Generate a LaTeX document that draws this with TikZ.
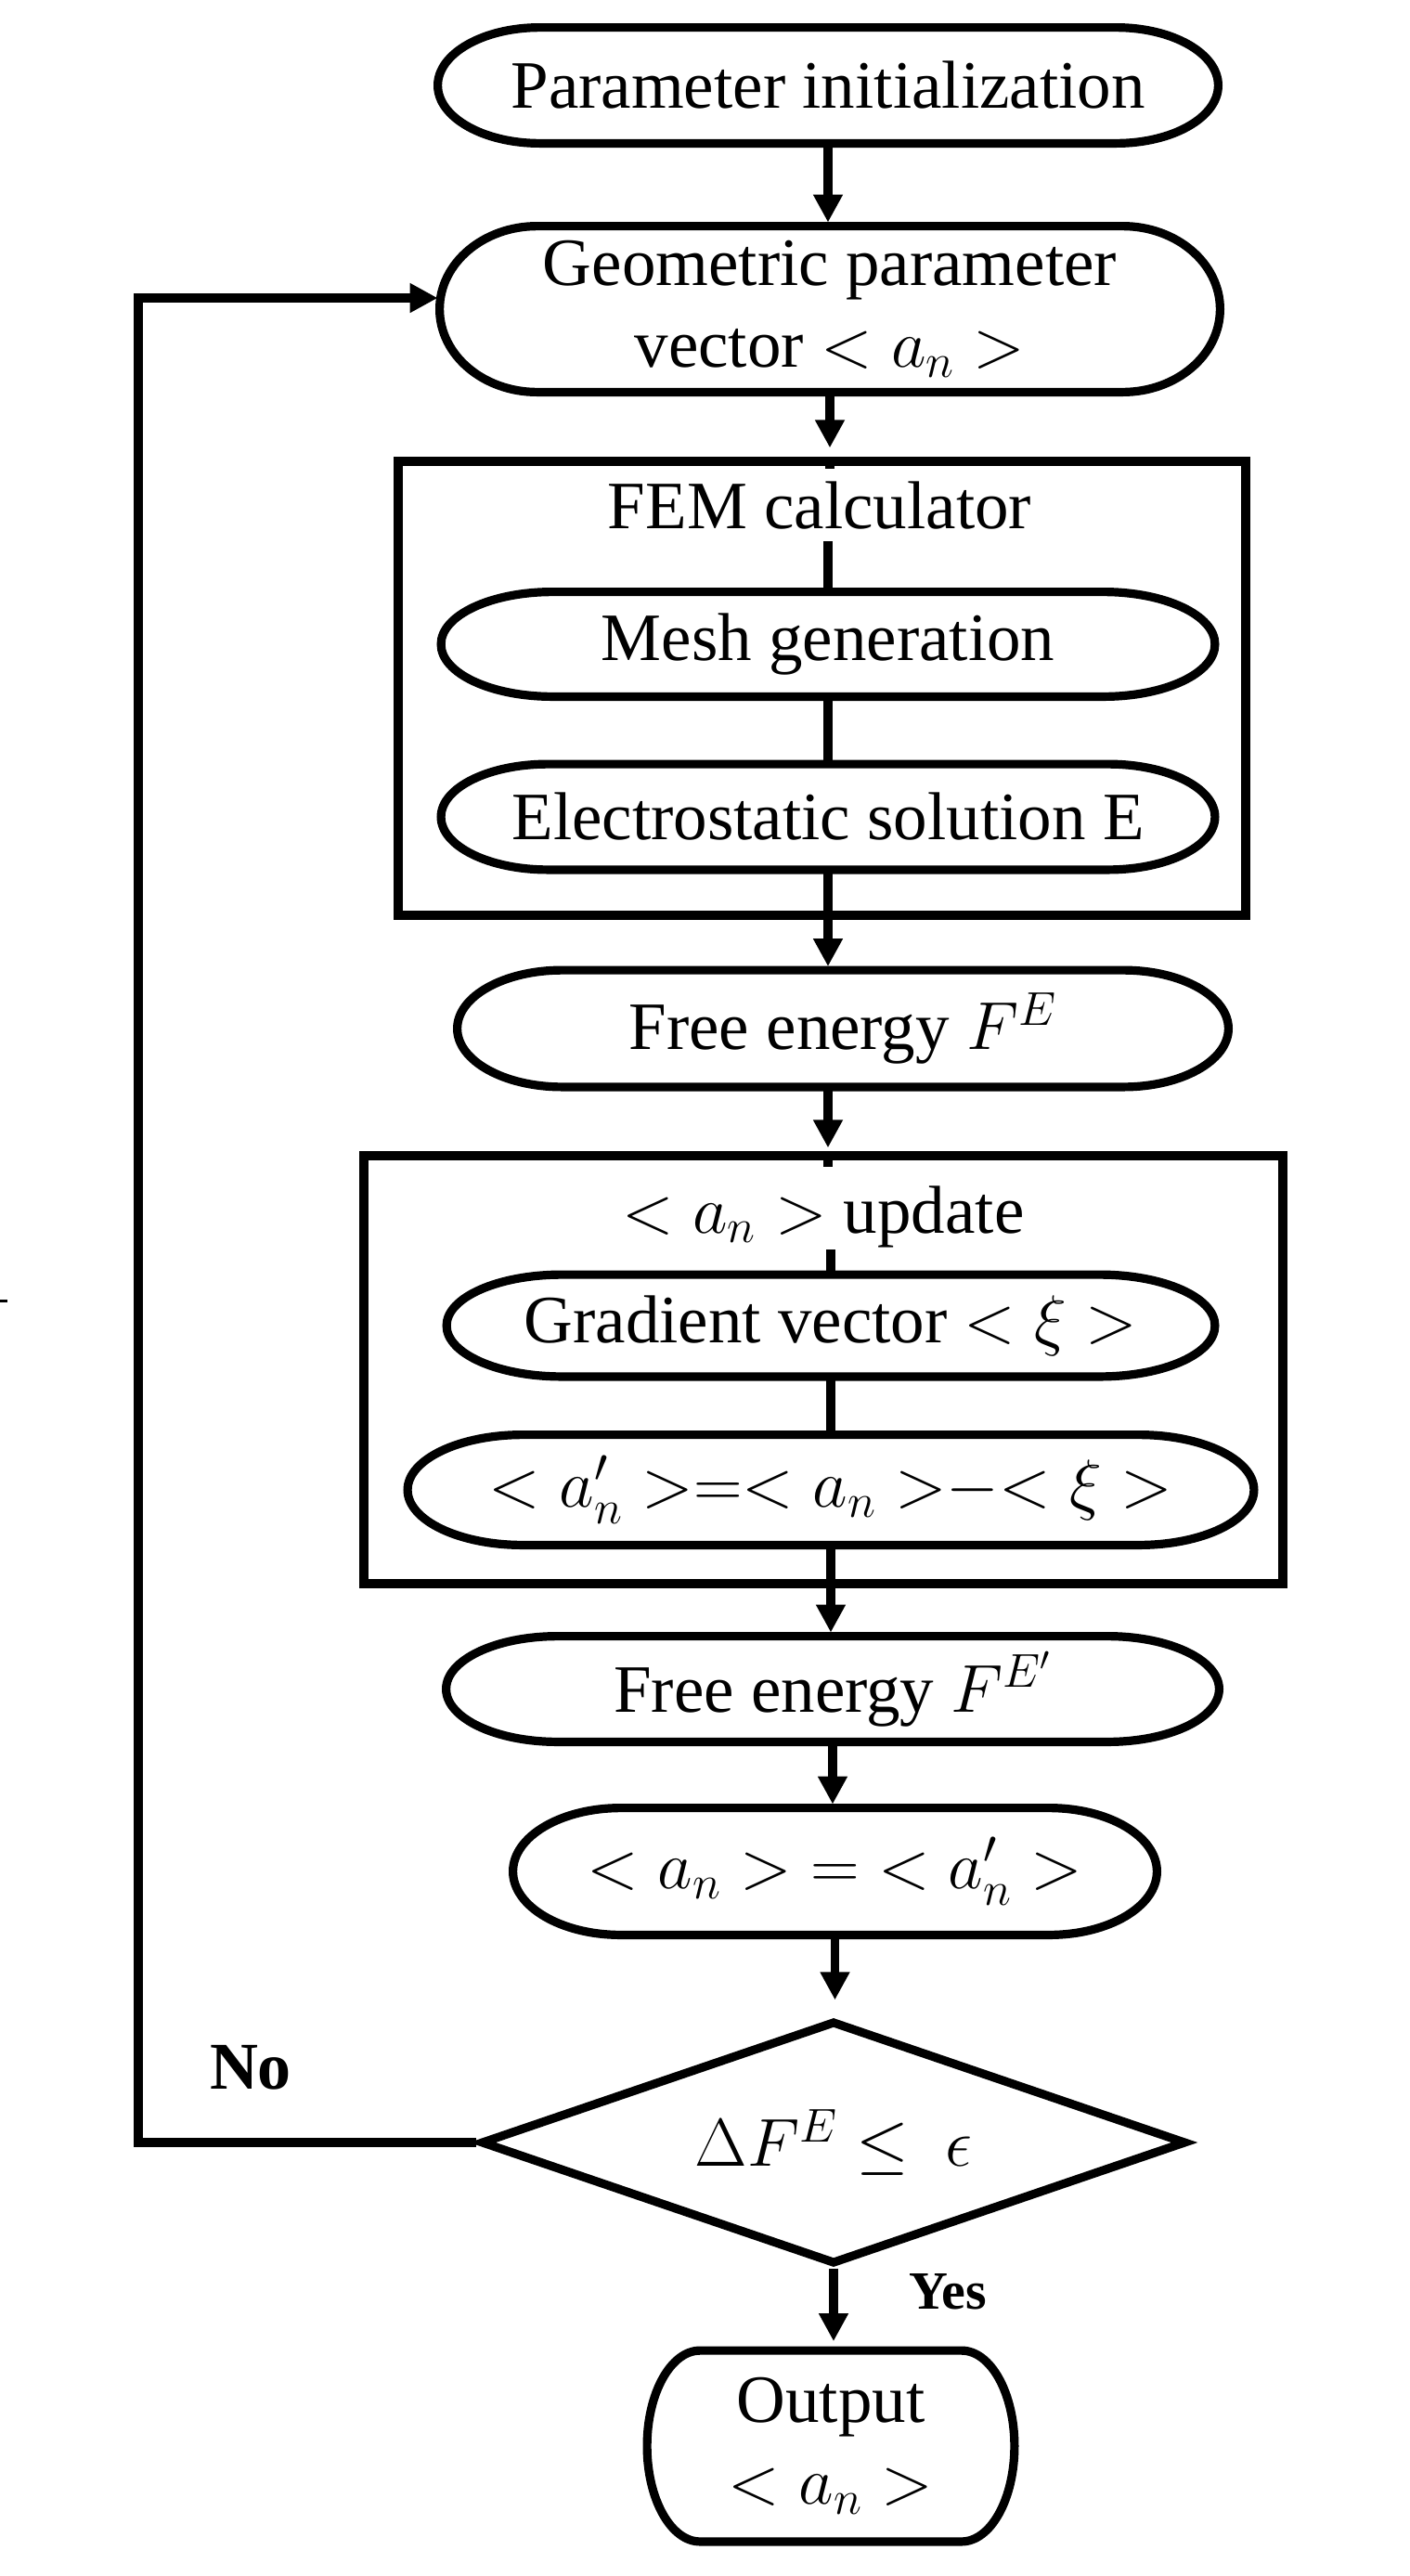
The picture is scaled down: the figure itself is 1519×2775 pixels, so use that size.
\RequirePackage{fix-cm}
\documentclass[tikz,border=0pt]{standalone}
\usepackage{fontspec}
\setmainfont{Liberation Serif}
\usetikzlibrary{arrows.meta,calc,shapes.geometric}
\tikzset{
  outl/.style={line width=4.6pt},
  txt/.style={font=\fontsize{36.5pt}{44pt}\selectfont, align=center},
  stad/.style={txt, draw=none, inner sep=0pt},
  boxr/.style={rectangle, draw, outl, inner sep=0pt},
  lbl/.style={txt, inner sep=0pt},
  arr/.style={line width=4.6pt, -{Triangle[length=15pt,width=15pt]}},
  conn/.style={line width=4.6pt},
  yesno/.style={font=\bfseries\fontsize{#1}{#1}\selectfont}
}
\newcommand\stadium[2]{%
  \draw[outl] let \p1=(#1.north west), \p2=(#1.south east), \n1={0.5*(\y1-\y2)} in
   (\x1+#2pt,\y1) -- (\x2-#2pt,\y1)
   arc[start angle=90,end angle=-90,x radius=#2pt,y radius=\n1]
   -- (\x1+#2pt,\y2)
   arc[start angle=270,end angle=90,x radius=#2pt,y radius=\n1] -- cycle;}
\begin{document}
\begin{tikzpicture}[x=0.5pt,y=-0.5pt]
\useasboundingbox (0,0) rectangle (1519,2775);
% nodes
\node[stad, minimum width=420pt, minimum height=62pt] (init) at (892,92) {Parameter initialization};
\node[stad, minimum width=420pt, minimum height=89pt] (geom) at (894,333) {Geometric parameter\\vector $<a_n>$};
\node[boxr, minimum width=456.5pt, minimum height=244.5pt] (fem) at (885.5,741.5) {};
\node[lbl, text height=32pt, text depth=7pt, anchor=base] (femlbl) at (883,569) {FEM calculator};
\node[stad, minimum width=416.5pt, minimum height=56pt] (mesh) at (892,694) {Mesh generation};
\node[stad, minimum width=416.5pt, minimum height=56.5pt] (elec) at (892,880) {Electrostatic solution E};
\node[stad, minimum width=415pt, minimum height=62.5pt] (free1) at (908,1108) {Free energy $F^E$};
\node[boxr, minimum width=495pt, minimum height=230.5pt] (upd) at (887,1475.5) {};
\node[lbl, text height=35.5pt, text depth=9pt, anchor=base] (updlbl) at (887,1328) {$<a_n>$ update};
\node[stad, minimum width=413.5pt, minimum height=54.5pt] (grad) at (895,1428) {Gradient vector $<\xi>$};
\node[stad, minimum width=455.5pt, minimum height=59pt] (aprime) at (895,1605) {$<a'_n\mathrel{{>}{=}{<}}a_n\mathrel{{>}{-}{<}}\xi>$};
\node[stad, minimum width=416pt, minimum height=56.5pt] (free2) at (897,1819.5) {Free energy $F^{E'}$};
\node[stad, minimum width=346.5pt, minimum height=68pt] (assign) at (899.5,2016) {$<a_n>\;=\;<a'_n>$};
\node[diamond, draw, outl, txt, shape aspect=3, minimum width=380pt, minimum height=131pt, inner sep=0pt] (dia) at (898,2308) {$\Delta F^E\leq\ \epsilon$};
\node[stad, minimum width=197.5pt, minimum height=102.5pt] (out) at (895,2635) {Output\\$<a_n>$};
\node[yesno=36pt] (no) at (270,2227) {No};
\node[yesno=29pt] (yes) at (1021,2469) {Yes};
\coordinate (fb) at (149,321);
% outlines
\stadium{init}{55}
\stadium{geom}{52.5}
\stadium{mesh}{60}
\stadium{elec}{57.5}
\stadium{free1}{56.5}
\stadium{grad}{62}
\stadium{aprime}{62}
\stadium{free2}{60}
\stadium{assign}{58}
\stadium{out}{28.5}
% connectors
\draw[arr, shorten >=2pt] (init.south) -- (init.south |- geom.north);
\draw[arr, shorten >=5pt] (geom.south) -- (geom.south |- fem.north);
\draw[conn] (geom.south |- fem.north) -- (geom.south |- femlbl.north);
\draw[conn] (mesh.north |- femlbl.south) -- (mesh.north);
\draw[conn] (mesh.south) -- (elec.north);
\draw[arr, shorten >=2pt] (elec.south) -- (elec.south |- free1.north);
\draw[arr, shorten >=2pt] (elec.south |- free1.south) -- (elec.south |- upd.north);
\draw[conn] (elec.south |- upd.north) -- (elec.south |- updlbl.north);
\draw[conn] (grad.north |- updlbl.south) -- (grad.north);
\draw[conn] (grad.south) -- (aprime.north);
\draw[arr, shorten >=2pt] (aprime.south) -- (aprime.south |- free2.north);
\draw[arr, shorten >=2pt] (free2.south) -- (free2.south |- assign.north);
\draw[arr, shorten >=9pt] (assign.south) -- (assign.south |- dia.north);
\draw[arr, shorten >=5pt] (dia.south) -- (dia.south |- out.north);
\draw[arr, shorten >=1pt] (dia.west) -| (fb) -- (geom.west |- fb);
% stray mark
\draw[line width=1.5pt] (0,1401.5) -- (8,1401.5);
\end{tikzpicture}
\end{document}
